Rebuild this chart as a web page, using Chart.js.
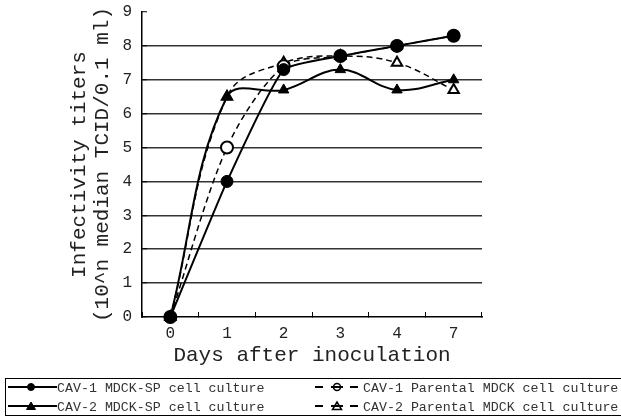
<!DOCTYPE html>
<html>
<head>
<meta charset="utf-8">
<script src="https://cdn.jsdelivr.net/npm/chart.js@4/dist/chart.umd.min.js"></script>
<style>
  html, body { margin: 0; padding: 0; background: #fff; }
  #wrap { width: 621px; height: 418px; position: relative; }
</style>
</head>
<body>
<div id="wrap"><canvas id="chart"></canvas></div>
<script>
// Days after inoculation (category axis)
const days = ["0", "1", "2", "3", "4", "7"];

// log10 infectivity titers
const cav1Sp = [0, 4.0, 7.3, 7.7, 8.0, 8.3];
const cav2Sp = [0, 6.5, 6.7, 7.3, 6.7, 7.0];
const cav1Parental = [0, 5.0, 7.4, 7.7, 8.0, 8.3];
const cav2Parental = [0, 6.5, 7.5, 7.7, 7.5, 6.7];

const seriesLabels = [
  "CAV-1 MDCK-SP cell culture",
  "CAV-2 MDCK-SP cell culture",
  "CAV-1 Parental MDCK cell culture",
  "CAV-2 Parental MDCK cell culture"
];

const yTitle = ["Infectivity titers", "(10^n median TCID/0.1 ml)"];
const xTitle = "Days after inoculation";

const FONT = "'Liberation Mono', 'DejaVu Sans Mono', monospace";

function series(label, data, style, dashed, filled, tension) {
  return {
    label,
    data,
    borderColor: "#000",
    borderWidth: dashed ? 1.5 : 2,
    borderDash: dashed ? [6, 4] : [],
    tension,
    pointStyle: style,
    pointRadius: 6,
    pointHoverRadius: 6,
    pointBorderWidth: filled ? 1 : 2,
    pointBorderColor: "#000",
    pointBackgroundColor: filled ? "#000" : "#fff",
    clip: false
  };
}

// Legend box along the bottom, cut off at the right edge like the original
const legendBox = {
  id: "legendBox",
  afterDraw(chart) {
    const ctx = chart.ctx;
    ctx.save();
    ctx.strokeStyle = "#000";
    ctx.lineWidth = 1;
    ctx.strokeRect(5.5, 378.5, 640, 37);

    ctx.font = "13.3px " + FONT;
    ctx.textBaseline = "middle";

    const rows = [387, 406];
    chart.data.datasets.forEach((ds, i) => {
      const col = i < 2 ? 0 : 1;
      const y = rows[i % 2];
      ctx.setLineDash([]);
      ctx.strokeStyle = "#000";
      let mx, tx;
      ctx.lineWidth = 2;
      ctx.beginPath();
      if (col === 0) {
        ctx.moveTo(8, y);
        ctx.lineTo(57, y);
        mx = 31;
        tx = 57;
      } else {
        [[315, 323], [331, 343], [350, 358]].forEach(s => {
          ctx.moveTo(s[0], y);
          ctx.lineTo(s[1], y);
        });
        mx = 337;
        tx = 363;
      }
      ctx.stroke();

      ctx.lineWidth = col === 0 ? 1 : 1.5;
      ctx.fillStyle = "#000";
      ctx.beginPath();
      if (ds.pointStyle === "circle") {
        ctx.arc(mx, y, 3.5, 0, Math.PI * 2);
      } else {
        ctx.moveTo(mx, y - 4);
        ctx.lineTo(mx + 4.5, y + 3.5);
        ctx.lineTo(mx - 4.5, y + 3.5);
        ctx.closePath();
      }
      if (col === 0) ctx.fill();
      ctx.stroke();

      ctx.fillStyle = "#333";
      ctx.fillText(ds.label, tx, y + 1);
    });
    ctx.restore();
  }
};

new Chart(document.getElementById("chart"), {
  type: "line",
  data: {
    labels: days,
    datasets: [
      series(seriesLabels[0], cav1Sp, "circle", false, true, 0.15),
      series(seriesLabels[1], cav2Sp, "triangle", false, true, 0.38),
      series(seriesLabels[2], cav1Parental, "circle", true, false, 0.3),
      series(seriesLabels[3], cav2Parental, "triangle", true, false, 0.4)
    ]
  },
  options: {
    responsive: true,
    maintainAspectRatio: false,
    animation: false,
    layout: { padding: { top: 12, right: 139, bottom: 45, left: 0 } },
    plugins: {
      legend: { display: false },
      tooltip: { enabled: false }
    },
    scales: {
      x: {
        offset: true,
        grid: {
          offset: true,
          drawOnChartArea: false,
          drawTicks: true,
          tickLength: -5,
          tickColor: "#000",
          tickWidth: 1
        },
        border: { color: "#000", width: 1.5 },
        ticks: {
          padding: 12,
          color: "#222",
          font: { size: 16, family: FONT }
        },
        title: {
          display: true,
          text: xTitle,
          color: "#222",
          font: { size: 21, family: FONT, lineHeight: 1.2 },
          padding: { top: 0, bottom: 5 }
        },
        afterFit: scale => { scale.height = 56; }
      },
      y: {
        min: 0,
        max: 9,
        ticks: {
          stepSize: 1,
          padding: 15,
          color: "#222",
          font: { size: 16, family: FONT }
        },
        grid: {
          color: ctx => (ctx.tick && (ctx.tick.value === 9 || ctx.tick.value === 0)) ? "rgba(0,0,0,0)" : "#333",
          lineWidth: 1.5,
          drawTicks: true,
          tickLength: -5,
          tickColor: "#000",
          tickWidth: 1
        },
        border: { color: "#000", width: 1.5 },
        title: {
          display: true,
          text: yTitle,
          color: "#222",
          font: { size: 21, family: FONT, lineHeight: 1.1 },
          padding: { top: 68, bottom: 0 }
        },
        afterFit: scale => {
          scale.width = 142;
          scale.paddingTop = 0;
          scale.paddingBottom = 0;
        }
      }
    }
  },
  plugins: [legendBox]
});
</script>
</body>
</html>
